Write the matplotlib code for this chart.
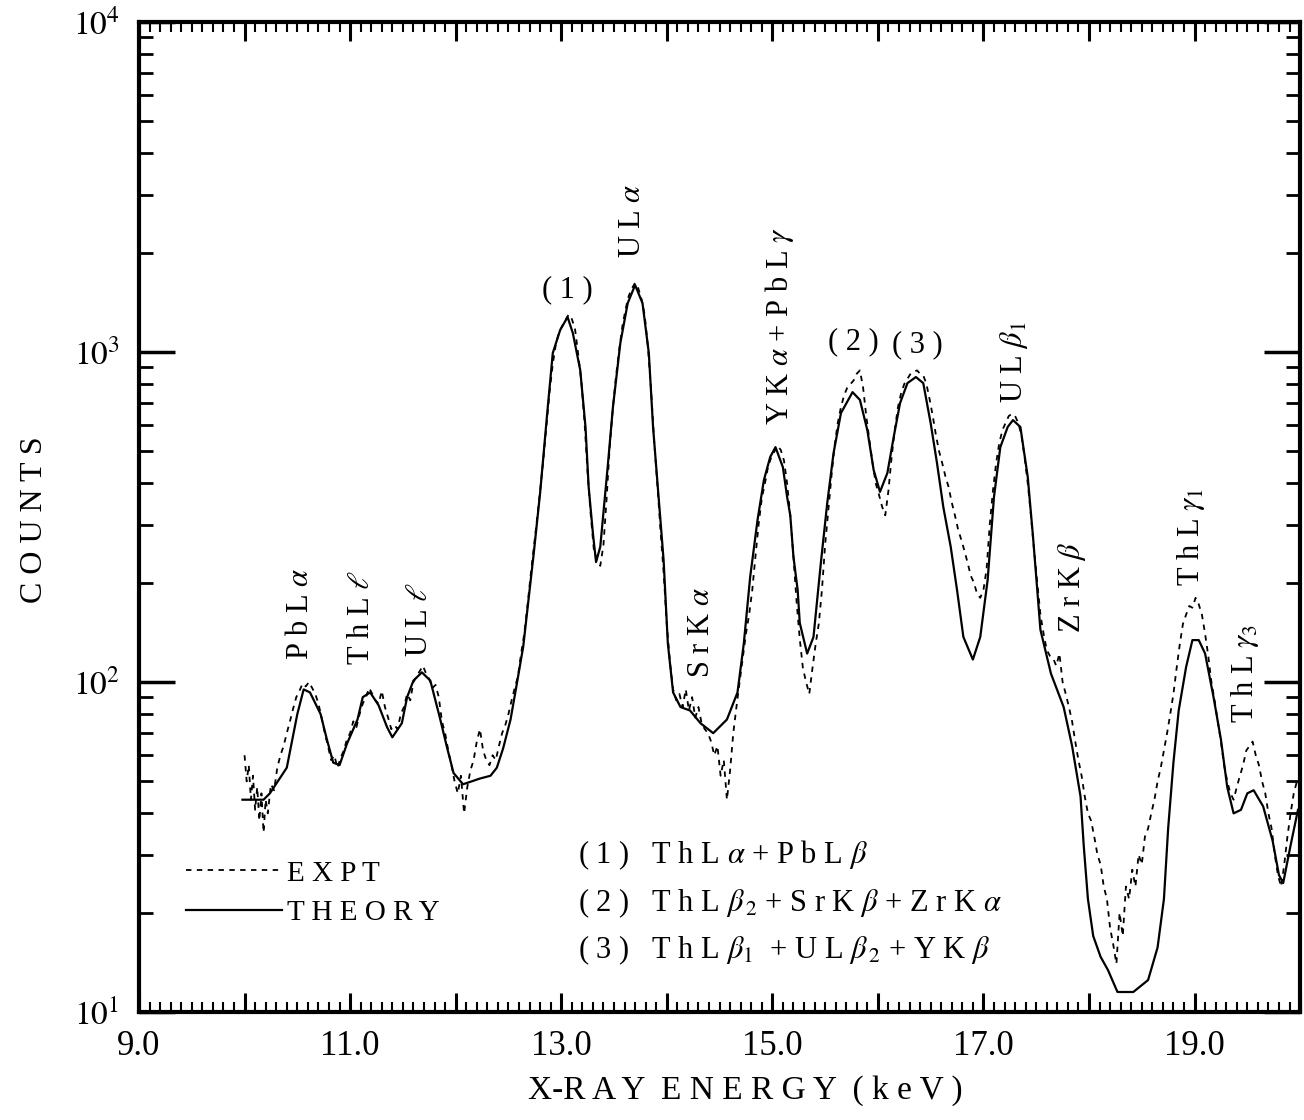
import numpy as np
import matplotlib
matplotlib.use('Agg')
import matplotlib.pyplot as plt
from matplotlib.ticker import LogLocator, MultipleLocator, NullFormatter

plt.rcParams['font.family'] = ['Liberation Serif', 'DejaVu Serif']
plt.rcParams['mathtext.fontset'] = 'stix'

# theory curve (solid)
theory_x = [9.98, 10.18, 10.24, 10.40, 10.50, 10.56, 10.62, 10.72, 10.78, 10.84,
            10.90, 10.97, 11.07, 11.12, 11.19, 11.27, 11.35, 11.40, 11.49, 11.54,
            11.60, 11.68, 11.76, 11.85, 11.92, 11.98, 12.07, 12.23, 12.33, 12.39,
            12.45, 12.52, 12.58, 12.64, 12.74, 12.80, 12.87, 12.92, 12.99, 13.06,
            13.11, 13.18, 13.23, 13.26, 13.30, 13.33, 13.37, 13.44, 13.49, 13.56,
            13.63, 13.70, 13.77, 13.83, 13.87, 13.92, 13.97, 14.01, 14.06, 14.13,
            14.22, 14.32, 14.44, 14.57, 14.67, 14.73, 14.79, 14.86, 14.92, 14.98,
            15.03, 15.10, 15.14, 15.17, 15.20, 15.24, 15.26, 15.33, 15.39, 15.46,
            15.52, 15.58, 15.65, 15.76, 15.83, 15.90, 15.96, 16.02, 16.09, 16.15,
            16.21, 16.28, 16.36, 16.43, 16.50, 16.56, 16.62, 16.69, 16.75, 16.81,
            16.90, 16.97, 17.04, 17.10, 17.16, 17.23, 17.28, 17.35, 17.42, 17.47,
            17.52, 17.54, 17.64, 17.76, 17.84, 17.92, 17.95, 17.99, 18.04, 18.11,
            18.18, 18.27, 18.42, 18.56, 18.65, 18.71, 18.75, 18.80, 18.85, 18.92,
            18.98, 19.04, 19.10, 19.18, 19.25, 19.31, 19.37, 19.44, 19.50, 19.56,
            19.65, 19.74, 19.80, 19.84, 19.91, 19.98]
theory_y = [44, 44, 46, 55, 80, 95, 93, 80, 67, 57,
            56, 65, 77, 90, 93, 85, 73, 68, 75, 90,
            101, 107, 101, 78, 63, 53, 49, 51, 52, 55,
            63, 77, 99, 128, 246, 374, 667, 993, 1166, 1277,
            1142, 882, 593, 390, 283, 231, 257, 448, 681, 1064,
            1407, 1596, 1407, 993, 593, 374, 234, 131, 93, 84,
            82, 75, 70, 77, 93, 131, 208, 310, 409, 481,
            515, 448, 364, 320, 240, 190, 151, 122, 137, 230,
            348, 494, 653, 756, 716, 580, 439, 377, 430, 553,
            700, 805, 840, 805, 609, 461, 339, 257, 190, 137,
            117, 137, 204, 364, 515, 593, 622, 593, 418, 275,
            173, 144, 106, 84, 64, 45, 32, 22, 17, 14.7,
            13.4, 11.5, 11.5, 12.5, 15.7, 22, 36, 57, 82, 111,
            134, 134, 122, 90, 67, 48, 40, 41, 46, 47,
            42, 33, 26, 24.6, 32, 41]

# experimental curve (dashed)
expt_x = [10.00, 10.02, 10.04, 10.06, 10.08, 10.10, 10.12, 10.14, 10.16, 10.18,
          10.20, 10.22, 10.25, 10.28, 10.31, 10.34, 10.37, 10.40, 10.43, 10.46,
          10.49, 10.52, 10.55, 10.58, 10.61, 10.64, 10.67, 10.70, 10.73, 10.76,
          10.79, 10.82, 10.85, 10.88, 10.91, 10.94, 10.97, 11.00, 11.03, 11.06,
          11.09, 11.12, 11.15, 11.18, 11.21, 11.24, 11.27, 11.30, 11.33, 11.36,
          11.39, 11.42, 11.45, 11.48, 11.51, 11.54, 11.57, 11.60, 11.63, 11.66,
          11.69, 11.72, 11.75, 11.78, 11.81, 11.84, 11.87, 11.90, 11.93, 11.96,
          11.99, 12.02, 12.05, 12.08, 12.11, 12.14, 12.17, 12.20, 12.23, 12.26,
          12.29, 12.32, 12.35, 12.38, 12.41, 12.44, 12.47, 12.50, 12.53, 12.56,
          12.59, 12.62, 12.65, 12.68, 12.71, 12.74, 12.77, 12.80, 12.83, 12.86,
          12.89, 12.92, 12.95, 12.98, 13.01, 13.04, 13.07, 13.10, 13.13, 13.16,
          13.19, 13.22, 13.25, 13.28, 13.31, 13.34, 13.37, 13.40, 13.43, 13.46,
          13.49, 13.52, 13.55, 13.58, 13.61, 13.64, 13.67, 13.70, 13.73, 13.76,
          13.79, 13.82, 13.85, 13.88, 13.91, 13.94, 13.97, 14.00, 14.03, 14.06,
          14.09, 14.12, 14.15, 14.18, 14.21, 14.24, 14.27, 14.30, 14.33, 14.36,
          14.39, 14.42, 14.45, 14.48, 14.51, 14.54, 14.57, 14.60, 14.63, 14.66,
          14.69, 14.72, 14.75, 14.78, 14.81, 14.84, 14.87, 14.90, 14.93, 14.96,
          14.99, 15.02, 15.05, 15.08, 15.11, 15.14, 15.17, 15.20, 15.23, 15.26,
          15.29, 15.32, 15.35, 15.38, 15.41, 15.44, 15.47, 15.50, 15.53, 15.56,
          15.59, 15.62, 15.65, 15.68, 15.71, 15.74, 15.77, 15.80, 15.83, 15.86,
          15.89, 15.92, 15.95, 15.98, 16.01, 16.04, 16.07, 16.10, 16.13, 16.16,
          16.19, 16.22, 16.25, 16.28, 16.31, 16.34, 16.37, 16.40, 16.43, 16.46,
          16.49, 16.52, 16.55, 16.58, 16.61, 16.64, 16.67, 16.70, 16.73, 16.76,
          16.79, 16.82, 16.85, 16.88, 16.91, 16.94, 16.97, 17.00, 17.03, 17.06,
          17.09, 17.12, 17.15, 17.18, 17.21, 17.24, 17.27, 17.30, 17.33, 17.36,
          17.39, 17.42, 17.45, 17.48, 17.51, 17.54, 17.57, 17.60, 17.63, 17.66,
          17.69, 17.72, 17.75, 17.78, 17.81, 17.84, 17.87, 17.90, 17.93, 17.96,
          17.99, 18.02, 18.05, 18.08, 18.11, 18.14, 18.17, 18.20, 18.23, 18.26,
          18.29, 18.32, 18.35, 18.38, 18.41, 18.44, 18.47, 18.50, 18.53, 18.56,
          18.59, 18.62, 18.65, 18.68, 18.71, 18.74, 18.77, 18.80, 18.83, 18.86,
          18.89, 18.92, 18.95, 18.98, 19.01, 19.04, 19.07, 19.10, 19.13, 19.16,
          19.19, 19.22, 19.25, 19.28, 19.31, 19.34, 19.37, 19.40, 19.43, 19.46,
          19.49, 19.52, 19.55, 19.58, 19.61, 19.64, 19.67, 19.70, 19.73, 19.76,
          19.79, 19.82, 19.85, 19.88, 19.91, 19.94, 19.97]
expt_y = [60, 50, 56, 44, 52, 41, 48, 38, 46, 35,
          44, 40, 49, 47, 55, 60, 64, 70, 76, 83,
          90, 94, 99, 97, 100, 96, 92, 86, 78, 70,
          64, 58, 60, 55, 59, 62, 67, 70, 76, 73,
          80, 86, 90, 96, 92, 88, 86, 94, 84, 78,
          72, 74, 72, 80, 84, 92, 88, 100, 104, 108,
          112, 106, 102, 96, 98, 90, 76, 70, 62, 56,
          50, 46, 52, 40, 48, 54, 58, 66, 72, 62,
          58, 56, 60, 58, 64, 70, 74, 80, 88, 96,
          104, 122, 140, 170, 210, 255, 310, 380, 470, 600,
          760, 920, 1060, 1150, 1200, 1250, 1300, 1260, 1180, 990,
          820, 620, 430, 320, 250, 235, 225, 260, 360, 520,
          680, 850, 1020, 1200, 1350, 1480, 1560, 1620, 1560, 1450,
          1300, 1050, 780, 540, 400, 290, 215, 150, 115, 95,
          88, 92, 84, 95, 82, 90, 78, 84, 75, 72,
          70, 66, 60, 64, 52, 58, 44, 54, 70, 84,
          100, 118, 140, 160, 190, 240, 300, 360, 400, 450,
          480, 500, 520, 505, 470, 400, 320, 240, 175, 135,
          110, 100, 92, 110, 130, 150, 190, 260, 330, 420,
          520, 610, 680, 740, 780, 800, 820, 860, 880, 780,
          640, 540, 460, 400, 370, 340, 320, 380, 480, 580,
          680, 750, 800, 830, 860, 870, 880, 860, 850, 800,
          720, 640, 560, 500, 460, 420, 390, 350, 320, 290,
          270, 250, 230, 210, 200, 185, 180, 190, 220, 300,
          380, 460, 530, 580, 610, 640, 650, 640, 610, 560,
          480, 400, 320, 250, 200, 160, 140, 125, 120, 118,
          112, 122, 100, 92, 84, 76, 66, 58, 52, 45,
          40, 38, 34, 30, 28, 24, 22, 18, 16, 14,
          20, 17, 24, 22, 27, 24, 30, 28, 34, 36,
          40, 44, 50, 55, 62, 70, 80, 92, 110, 130,
          150, 160, 170, 168, 180, 172, 160, 140, 120, 100,
          88, 76, 66, 56, 50, 46, 44, 48, 52, 56,
          62, 64, 66, 60, 56, 50, 46, 40, 36, 30,
          26, 24, 28, 34, 40, 46, 50]

# peak labels
peak_labels = [r'P b L $\alpha$', r'T h L $\ell$', r'U L $\ell$', '( 1 )', r'U L $\alpha$',
               r'S r K $\alpha$', r'Y K $\alpha$ + P b L $\gamma$', '( 2 )', '( 3 )',
               r'U L $\beta_1$', r'Z r K $\beta$', r'T h L $\gamma_1$', r'T h L $\gamma_3$']
peak_x = [10.53, 11.11, 11.66, 13.06, 13.68, 14.33, 15.07, 15.77, 16.37, 17.29, 17.84, 18.97, 19.48]
peak_y = [117, 113, 119, 1542, 1927, 103, 600, 1073, 1050, 700, 141, 195, 75]
peak_rot = [90, 90, 90, 0, 90, 90, 90, 0, 0, 90, 90, 90, 90]

notes = [r'( 1 )   T h L $\alpha$ + P b L $\beta$',
         r'( 2 )   T h L $\beta_{\,2}$ + S r K $\beta$ + Z r K $\alpha$',
         r'( 3 )   T h L $\beta_1$  + U L $\beta_{\,2}$ + Y K $\beta$']
notes_y = [29.9, 21.4, 15.4]

fig = plt.figure(figsize=(13.04, 11.2), dpi=100)
ax = fig.add_axes([0.1066, 0.0964, 0.8904, 0.8839])

ax.plot(expt_x, expt_y, color='black', lw=1.3, ls=(0, (3, 3)), label='E X P T')
ax.plot(theory_x, theory_y, color='black', lw=1.6, label='T H E O R Y')

ax.set_yscale('log')
ax.set_xlim(9.0, 20.0)
ax.set_ylim(10, 1e4)

ax.set_xticks(np.arange(9, 21, 1.0))
ax.set_xticklabels(['9.0', '', '11.0', '', '13.0', '', '15.0', '', '17.0', '', '19.0', ''])
ax.xaxis.set_minor_locator(MultipleLocator(0.1))
ax.set_yticks([10, 100, 1000, 10000])
ax.set_yticklabels([r'$10^{1}$', r'$10^{2}$', r'$10^{3}$', r'$10^{4}$'])
ax.yaxis.set_minor_locator(LogLocator(base=10, subs=np.arange(2, 10)))
ax.yaxis.set_minor_formatter(NullFormatter())

ax.tick_params(axis='x', which='major', direction='in', length=14, width=2.2,
               top=True, bottom=True, labelsize=25, pad=13)
ax.tick_params(axis='x', which='minor', direction='in', length=7, width=1.5, top=True, bottom=True)
ax.tick_params(axis='y', which='major', direction='in', length=26, width=2.5,
               left=True, right=True, labelsize=24, pad=14)
ax.tick_params(axis='y', which='minor', direction='in', length=10, width=2, left=True, right=True)
for s in ax.spines.values():
    s.set_linewidth(3)

for t, x, y, r in zip(peak_labels, peak_x, peak_y, peak_rot):
    if r == 0:
        ax.text(x, y, t, fontsize=22, ha='center', va='center')
    else:
        ax.text(x, y, t, fontsize=22, rotation=90, ha='center', va='bottom')

for t, y in zip(notes, notes_y):
    ax.text(13.16, y, t, fontsize=22, ha='left', va='center')

ax.legend(loc='upper left', bbox_to_anchor=(0.018, 0.18), frameon=False, fontsize=21,
          handlelength=3.3, handletextpad=0.15, labelspacing=0.45)

ax.set_ylabel('C O U N T S', fontsize=23)
ax.yaxis.set_label_coords(-0.0896, 0.497)
ax.yaxis.label.set_va('center')
ax.set_xlabel('X-R A Y  E N E R G Y  ( k e V )', fontsize=24)
ax.xaxis.set_label_coords(0.522, -0.079)
ax.xaxis.label.set_va('center')

fig.savefig('out.png', dpi=100)
